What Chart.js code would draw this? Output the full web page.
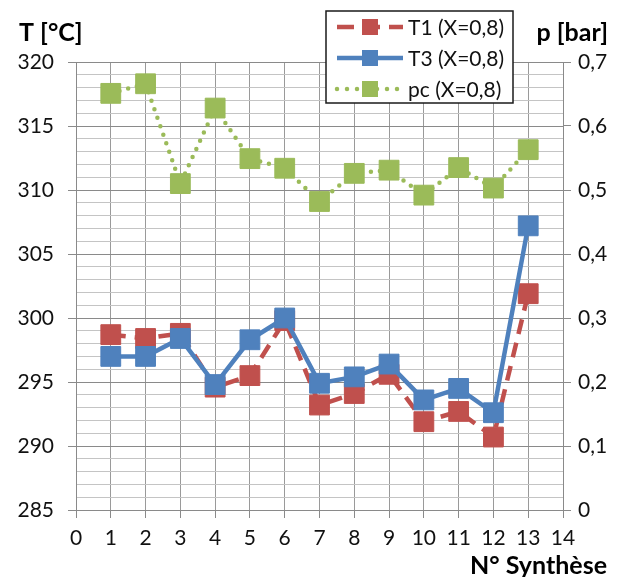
<!DOCTYPE html>
<html>
<head>
<meta charset="utf-8">
<script src="https://cdn.jsdelivr.net/npm/chart.js@4/dist/chart.umd.min.js"></script>
<style>
html,body{margin:0;padding:0;background:#fff;}
#wrap{width:623px;height:577px;position:relative;}
</style>
</head>
<body>
<div id="wrap"><canvas id="c" width="623" height="577"></canvas></div>
<script>
// ---- data ----
const syntheses = [1, 2, 3, 4, 5, 6, 7, 8, 9, 10, 11, 12, 13];
const T1 = [298.7, 298.4, 298.8, 294.6, 295.5, 299.8, 293.2, 294.1, 295.6, 291.9, 292.7, 290.7, 301.9];
const T3 = [297.0, 297.0, 298.4, 294.8, 298.3, 300.0, 294.9, 295.4, 296.4, 293.6, 294.5, 292.6, 307.2];
const pc = [0.651, 0.666, 0.510, 0.628, 0.549, 0.534, 0.482, 0.526, 0.531, 0.492, 0.535, 0.503, 0.563];
const seriesLabels = ['T1 (X=0,8)', 'T3 (X=0,8)', 'pc (X=0,8)'];
const leftTitle = 'T [°C]';
const rightTitle = 'p [bar]';
const xTitle = 'N° Synthèse';

const RED = '#C0504D', BLUE = '#4F81BD', GREEN = '#9BBB59';
const FONT = 'Lato, "Open Sans", sans-serif';

const toXY = (ys) => syntheses.map((x, i) => ({x: x, y: ys[i]}));

const legendPlugin = {
  id: 'customDecor',
  afterDraw(chart) {
    const ctx = chart.ctx;
    ctx.save();
    // axis titles
    ctx.fillStyle = '#000';
    ctx.font = 'bold 25px ' + FONT;
    ctx.textBaseline = 'middle';
    ctx.textAlign = 'left';
    ctx.fillText(leftTitle, 19, 33);
    ctx.textAlign = 'right';
    ctx.fillText(rightTitle, 608, 33);
    ctx.fillText(xTitle, 607, 566);

    // legend box
    const bx = 326, by = 11, bw = 187, bh = 92;
    ctx.fillStyle = '#fff';
    ctx.fillRect(bx, by, bw, bh);
    ctx.strokeStyle = '#1a1a1a';
    ctx.lineWidth = 1.5;
    ctx.strokeRect(bx, by, bw, bh);
    const rows = [27, 58, 89];
    chart.data.datasets.forEach((ds, i) => {
      const y = rows[i];
      ctx.save();
      ctx.strokeStyle = ds.borderColor;
      ctx.lineWidth = 4.5;
      ctx.lineCap = ds.borderCapStyle || 'butt';
      ctx.setLineDash(ds.legendDash || []);
      ctx.beginPath();
      ctx.moveTo(337, y);
      ctx.lineTo(403, y);
      ctx.stroke();
      ctx.restore();
      ctx.fillStyle = ds.backgroundColor;
      ctx.fillRect(362, y - 8, 16, 16);
      ctx.fillStyle = '#111';
      ctx.font = '21px ' + FONT;
      ctx.textAlign = 'left';
      ctx.textBaseline = 'middle';
      ctx.fillText(ds.label, 408, y + 1);
    });
    ctx.restore();
  }
};

const majorGrid = '#8a8a8a', minorGrid = '#c4c4c4';

new Chart(document.getElementById('c'), {
  type: 'line',
  data: {
    datasets: [
      {
        label: seriesLabels[0], data: toXY(T1), yAxisID: 'yT',
        borderColor: RED, backgroundColor: RED, borderWidth: 4.5,
        borderDash: [15, 9], legendDash: [17, 9], pointStyle: 'rect', pointRadius: 14,
        pointBorderWidth: 1, pointBorderColor: RED, pointBackgroundColor: RED, order: 3
      },
      {
        label: seriesLabels[1], data: toXY(T3), yAxisID: 'yT',
        borderColor: BLUE, backgroundColor: BLUE, borderWidth: 4.5,
        pointStyle: 'rect', pointRadius: 14,
        pointBorderWidth: 1, pointBorderColor: BLUE, pointBackgroundColor: BLUE, order: 2
      },
      {
        label: seriesLabels[2], data: toXY(pc), yAxisID: 'yP',
        borderColor: GREEN, backgroundColor: GREEN, borderWidth: 4.5,
        borderDash: [0, 9], legendDash: [0, 10], borderCapStyle: 'round', pointStyle: 'rect', pointRadius: 14,
        pointBorderWidth: 1, pointBorderColor: GREEN, pointBackgroundColor: GREEN, order: 1
      }
    ]
  },
  options: {
    responsive: false,
    animation: false,
    events: [],
    layout: {padding: {top: 62, left: 0, right: 0, bottom: 0}},
    plugins: {legend: {display: false}, tooltip: {enabled: false}},
    elements: {line: {tension: 0}},
    scales: {
      x: {
        type: 'linear', min: 0, max: 14,
        afterFit(s) { s.height = 67; },
        ticks: {stepSize: 1, color: '#111', font: {family: FONT, size: 21}, padding: 8, maxRotation: 0, autoSkip: false},
        grid: {color: '#9a9a9a', lineWidth: 1, tickLength: 8, tickColor: '#8a8a8a'},
        border: {color: '#8a8a8a', width: 1}
      },
      yT: {
        type: 'linear', position: 'left', min: 285, max: 320,
        afterFit(s) { s.width = 76; },
        ticks: {
          stepSize: 1, autoSkip: false, color: '#111', font: {family: FONT, size: 21}, padding: 14,
          callback: (v) => (Math.round(v) % 5 === 0 ? String(Math.round(v)) : '')
        },
        grid: {
          lineWidth: 1, tickLength: 8,
          color: (c) => (c.tick && Math.round(c.tick.value) % 5 === 0 ? majorGrid : minorGrid),
          tickColor: (c) => (c.tick && Math.round(c.tick.value) % 5 === 0 ? majorGrid : 'rgba(0,0,0,0)')
        },
        border: {color: '#8a8a8a', width: 1}
      },
      yP: {
        type: 'linear', position: 'right', min: 0, max: 0.7,
        afterFit(s) { s.width = 60; },
        ticks: {
          stepSize: 0.1, autoSkip: false, color: '#111', font: {family: FONT, size: 21}, padding: 7,
          callback: (v) => (Math.abs(v) < 1e-9 ? '0' : v.toFixed(1).replace('.', ','))
        },
        grid: {drawOnChartArea: false, tickLength: 8, tickColor: majorGrid, lineWidth: 1},
        border: {color: '#8a8a8a', width: 1}
      }
    }
  },
  plugins: [legendPlugin]
});
</script>
</body>
</html>
